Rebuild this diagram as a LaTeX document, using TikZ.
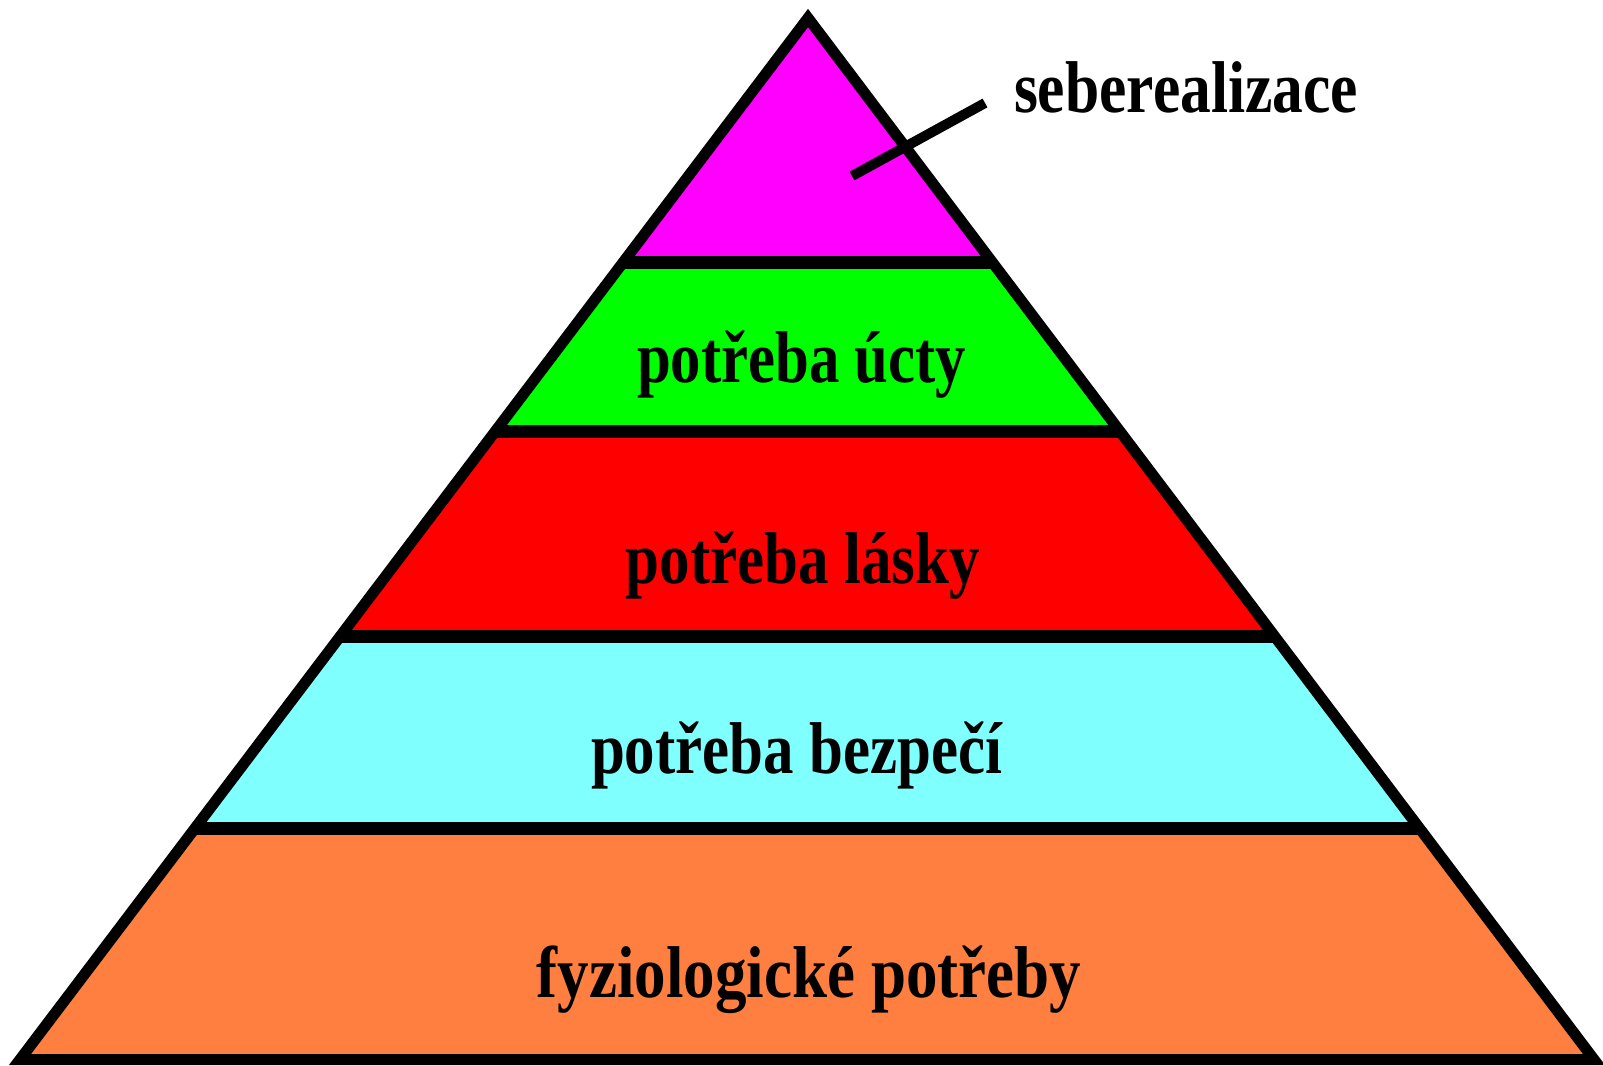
\documentclass[tikz,border=0pt]{standalone}
\usepackage{fontspec}
\setmainfont{Liberation Serif}
\usepackage{graphicx}
\definecolor{magc}{HTML}{FF00FF}
\definecolor{grnc}{HTML}{00FF00}
\definecolor{redc}{HTML}{FF0000}
\definecolor{cync}{HTML}{80FFFF}
\definecolor{orgc}{HTML}{FF7F40}
\begin{document}
\begin{tikzpicture}[x=0.75pt,y=-0.75pt,
  lbl/.style={anchor=base,inner sep=0pt,font=\fontsize{55}{60}\selectfont\bfseries},
  sepline/.style={line width=9.75pt},
  outline/.style={line width=8.25pt,line join=miter},
  pointer/.style={line width=7.5pt}]
\useasboundingbox (0,0) rectangle (1603,1065);
\fill[white] (0,0) rectangle (1603,1065);
\coordinate (apex) at (808,18);
\coordinate (bl) at (20,1059.5);
\coordinate (br) at (1594,1059.5);
\begin{scope}
  \clip (apex)--(bl)--(br)--cycle;
  \fill[magc] (0,0) rectangle (1603,262.5);
  \fill[grnc] (0,262.5) rectangle (1603,431);
  \fill[redc] (0,431) rectangle (1603,636);
  \fill[cync] (0,636) rectangle (1603,828);
  \fill[orgc] (0,828) rectangle (1603,1065);
  \foreach \yy in {262.5,431,636,828} \draw[sepline] (0,\yy) -- (1603,\yy);
\end{scope}
\draw[outline] (apex)--(bl)--(br)--cycle;
\node[lbl] (ucty) at (801.5,382) {\resizebox{246.75pt}{\height}{potřeba úcty}};
\node[lbl] (lasky) at (803,583) {\resizebox{265.5pt}{\height}{potřeba lásky}};
\node[lbl] (bezpeci) at (796.5,773) {\resizebox{308.25pt}{\height}{potřeba bezpečí}};
\node[lbl] (fyzio) at (809,997) {\resizebox{408pt}{\height}{fyziologické potřeby}};
\node[lbl] (seber) at (1186,112) {\resizebox{258pt}{\height}{seberealizace}};
\coordinate (ptrA) at (852,176);
\coordinate (ptrB) at (985,103);
\draw[pointer] (ptrA) -- (ptrB);
\end{tikzpicture}
\end{document}
